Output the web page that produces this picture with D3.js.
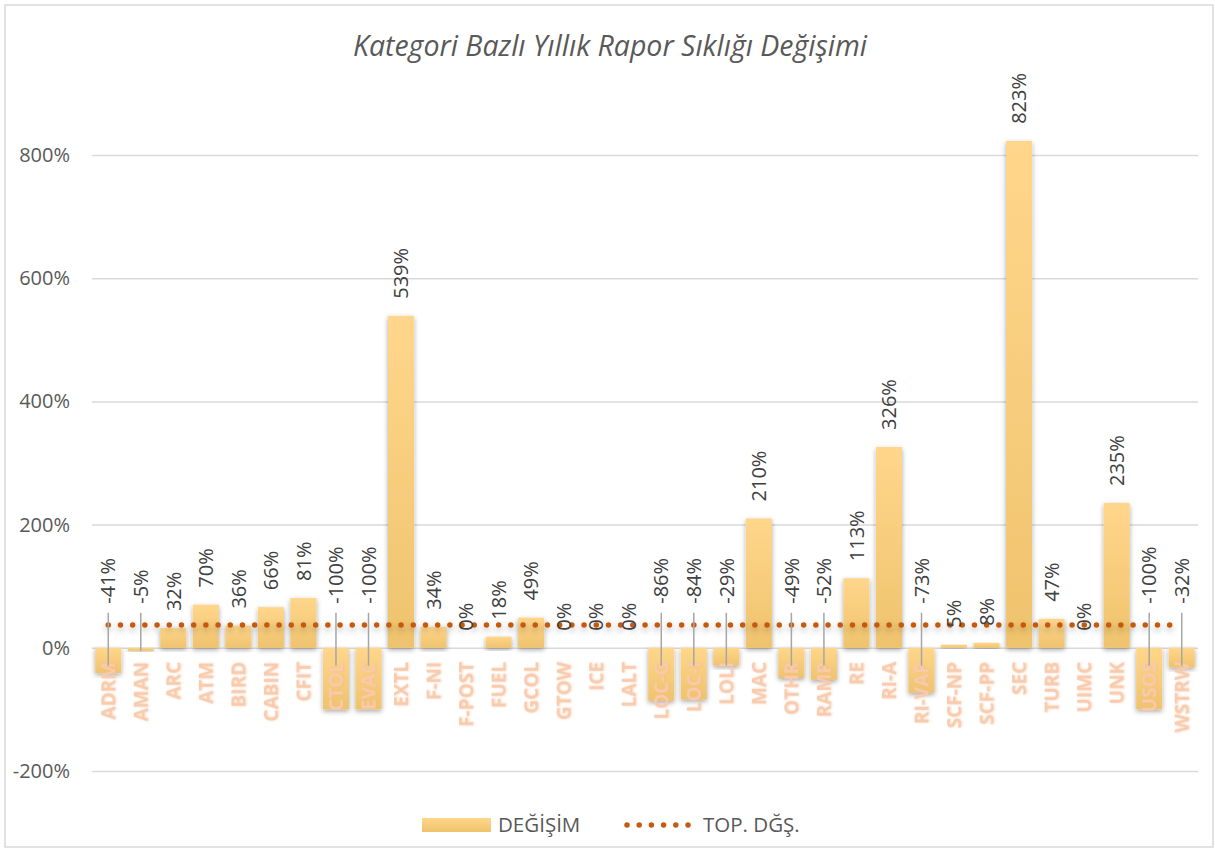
<!DOCTYPE html>
<html>
<head>
<meta charset="utf-8">
<script src="https://cdn.jsdelivr.net/npm/d3@7"></script>
<style>
  body { margin: 0; background: #fff; }
  text { font-family: "Open Sans", sans-serif; }
</style>
</head>
<body>
<div id="grafico"></div>
<script>
// dados
const categories = ["ADRM","AMAN","ARC","ATM","BIRD","CABIN","CFIT","CTOL","EVAC","EXTL","F-NI","F-POST","FUEL","GCOL","GTOW","ICE","LALT","LOC-G","LOC-I","LOLI","MAC","OTHR","RAMP","RE","RI-A","RI-VAP","SCF-NP","SCF-PP","SEC","TURB","UIMC","UNK","USOS","WSTRW"];
const changes = [-41,-5,32,70,36,66,81,-100,-100,539,34,0,18,49,0,0,0,-86,-84,-29,210,-49,-52,113,326,-73,5,8,823,47,0,235,-100,-32];
const totalChange = 37;
const yTicks = [-200, 0, 200, 400, 600, 800];
const seriesNames = ["DEĞİŞİM", "TOP. DĞŞ."];
const title = "Kategori Bazlı Yıllık Rapor Sıklığı Değişimi";

const W = 1215, H = 848;
const left = 92, right = 1198;

const svg = d3.select("#grafico")
  .append("svg")
    .attr("width", W)
    .attr("height", H);

const defs = svg.append("defs");
const grad = defs.append("linearGradient")
  .attr("id", "barGrad")
  .attr("x1", 0).attr("y1", 0).attr("x2", 0).attr("y2", 1);
grad.append("stop").attr("offset", "0%").attr("stop-color", "#FFD68B");
grad.append("stop").attr("offset", "100%").attr("stop-color", "#EFC36D");

const shadow = defs.append("filter")
  .attr("id", "shadow")
  .attr("x", "-30%").attr("y", "-10%").attr("width", "160%").attr("height", "130%");
shadow.append("feDropShadow")
  .attr("dx", 0).attr("dy", 2).attr("stdDeviation", 2.5)
  .attr("flood-color", "#000").attr("flood-opacity", 0.35);

// sombra da linha (userSpaceOnUse porque a linha e horizontal)
const lineShadow = defs.append("filter")
  .attr("id", "lineShadow")
  .attr("filterUnits", "userSpaceOnUse")
  .attr("x", 0).attr("y", 0).attr("width", W).attr("height", H);
lineShadow.append("feDropShadow")
  .attr("dx", 0).attr("dy", 3).attr("stdDeviation", 3)
  .attr("flood-color", "#000").attr("flood-opacity", 0.3);

const glow = defs.append("filter").attr("id", "glow");
glow.append("feDropShadow")
  .attr("dx", 0).attr("dy", 1).attr("stdDeviation", 1)
  .attr("flood-color", "#F4B183").attr("flood-opacity", 0.5);

// borda do grafico
svg.append("rect")
  .attr("x", 5).attr("y", 5)
  .attr("width", 1208).attr("height", 842)
  .attr("fill", "#fff")
  .attr("stroke", "#D9D9D9")
  .attr("stroke-width", 1.5);

// titulo
svg.append("text")
  .attr("x", 610).attr("y", 56)
  .attr("text-anchor", "middle")
  .attr("font-size", "28.5px")
  .attr("font-style", "italic")
  .attr("fill", "#595959")
  .text(title);

const x = d3.scaleBand()
  .domain(categories)
  .range([left, right])
  .paddingInner(0.2)
  .paddingOuter(0.1);

const y = d3.scaleLinear()
  .domain([-200, 800])
  .range([771, 155]);

// eixo y com grade
const yAxis = svg.append("g")
  .attr("transform", "translate(" + left + ",0)")
  .call(d3.axisLeft(y)
    .tickValues(yTicks)
    .tickSize(-(right - left))
    .tickPadding(22)
    .tickFormat(d => d + "%"));
yAxis.select(".domain").remove();
yAxis.selectAll("line").attr("stroke", "#D9D9D9").attr("stroke-width", 1.5);
yAxis.selectAll("text")
  .attr("font-size", "20px")
  .attr("fill", "#595959")
  .style("font-family", "'Open Sans', sans-serif");

// barras
svg.append("g")
  .selectAll("rect")
  .data(changes)
  .enter()
  .append("rect")
    .attr("x", (d, i) => x(categories[i]))
    .attr("width", x.bandwidth())
    .attr("y", d => y(Math.max(d, 0)))
    .attr("height", d => Math.abs(y(d) - y(0)))
    .attr("fill", "url(#barGrad)")
    .attr("filter", "url(#shadow)");

// linha pontilhada do total
const line = d3.line()
  .x(d => x(d) + x.bandwidth() / 2)
  .y(() => y(totalChange));
svg.append("path")
  .datum(categories)
  .attr("d", line)
  .attr("fill", "none")
  .attr("stroke", "#C55A11")
  .attr("stroke-width", 5.5)
  .attr("stroke-linecap", "round")
  .attr("stroke-dasharray", "0 12.2")
  .attr("filter", "url(#lineShadow)");

// rotulos do eixo x
svg.append("g")
  .selectAll("text")
  .data(categories)
  .enter()
  .append("text")
    .attr("transform", d => "translate(" + (x(d) + x.bandwidth() / 2) + "," + (y(0) + 14) + ") rotate(-90)")
    .attr("dy", "0.36em")
    .attr("text-anchor", "end")
    .attr("font-size", "19px")
    .attr("font-weight", 700)
    .attr("fill", "#F8CBAD")
    .attr("filter", "url(#glow)")
    .text(d => d);

// linhas guia dos rotulos negativos
const labelY = d => d >= 0 ? y(d) - 17 : y(0) - 44;
svg.append("g")
  .selectAll("line")
  .data(changes.map((v, i) => ({ v, c: categories[i] })).filter(d => d.v < 0))
  .enter()
  .append("line")
    .attr("x1", d => x(d.c) + x.bandwidth() / 2)
    .attr("x2", d => x(d.c) + x.bandwidth() / 2)
    .attr("y1", d => labelY(d.v) + 9)
    .attr("y2", d => Math.min(y(d.v), y(0) + 18))
    .attr("stroke", "#A6A6A6")
    .attr("stroke-width", 1.5);

// rotulos de dados
svg.append("g")
  .selectAll("text")
  .data(changes)
  .enter()
  .append("text")
    .attr("transform", (d, i) => "translate(" + (x(categories[i]) + x.bandwidth() / 2) + "," + labelY(d) + ") rotate(-90)")
    .attr("dy", "0.36em")
    .attr("text-anchor", "start")
    .attr("font-size", "20px")
    .attr("fill", "#404040")
    .text(d => d + "%");

// legenda
const legend = svg.append("g");
legend.append("rect")
  .attr("x", 422).attr("y", 818)
  .attr("width", 69).attr("height", 14)
  .attr("fill", "url(#barGrad)");
legend.append("text")
  .attr("x", 498).attr("y", 832)
  .attr("font-size", "20.5px")
  .attr("fill", "#595959")
  .text(seriesNames[0]);
legend.append("line")
  .attr("x1", 627).attr("x2", 693)
  .attr("y1", 825).attr("y2", 825)
  .attr("stroke", "#C55A11")
  .attr("stroke-width", 5.5)
  .attr("stroke-linecap", "round")
  .attr("stroke-dasharray", "0 12.2");
legend.append("text")
  .attr("x", 703).attr("y", 832)
  .attr("font-size", "20.5px")
  .attr("fill", "#595959")
  .text(seriesNames[1]);
</script>
</body>
</html>
